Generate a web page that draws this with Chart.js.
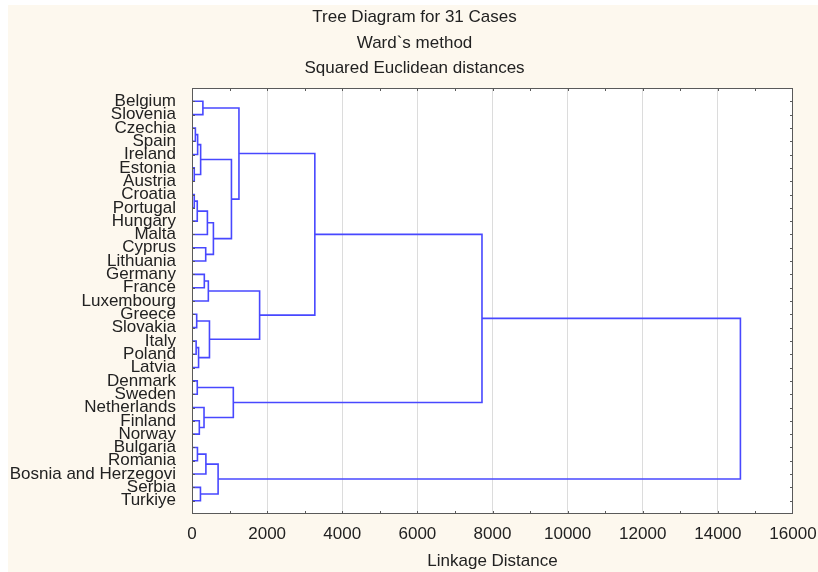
<!DOCTYPE html>
<html>
<head>
<meta charset="utf-8">
<script src="https://cdn.jsdelivr.net/npm/chart.js@4.4.1/dist/chart.umd.min.js"></script>
<style>
  html, body { margin: 0; padding: 0; background: #ffffff; }
  #wrap { width: 818px; height: 572px; }
</style>
</head>
<body>
<div id="wrap"><canvas id="treeChart"></canvas></div>
<script>
// Cases, top to bottom, as listed on the y axis
const cases = ["Belgium", "Slovenia", "Czechia", "Spain", "Ireland", "Estonia", "Austria",
    "Croatia", "Portugal", "Hungary", "Malta", "Cyprus", "Lithuania", "Germany", "France",
    "Luxembourg", "Greece", "Slovakia", "Italy", "Poland", "Latvia", "Denmark", "Sweden",
    "Netherlands", "Finland", "Norway", "Bulgaria", "Romania", "Bosnia and Herzegovi",
    "Serbia", "Turkiye"];

// Merge steps: node ids < 31 are cases, id 31 + k is the cluster made at step k
const mergeA = [0, 2, 32, 5, 33, 7, 36, 37, 11, 38, 35, 31, 13, 43, 16, 18, 46, 45, 44, 42,
    21, 24, 23, 51, 50, 26, 56, 29, 57, 55];
const mergeB = [1, 3, 4, 6, 34, 8, 9, 10, 12, 39, 40, 41, 14, 15, 17, 19, 20, 47, 48, 49,
    22, 25, 52, 53, 54, 27, 28, 30, 58, 59];
const mergeDist = [290, 90, 150, 60, 230, 60, 140, 410, 365, 570, 1050, 1250, 328, 435, 125,
    110, 175, 465, 1800, 3270, 140, 195, 320, 1100, 7720, 145, 370, 225, 695, 14600];

const distanceTicks = [0, 2000, 4000, 6000, 8000, 10000, 12000, 14000, 16000];

const titleLines = ["Tree Diagram for 31 Cases", "Ward`s method", "Squared Euclidean distances"];

// build the bracket for every merge
const nodeY = cases.map((c, i) => i);
const nodeH = cases.map(() => 0);
const datasets = [];
for (let k = 0; k < mergeDist.length; k++) {
    const a = mergeA[k], b = mergeB[k], h = mergeDist[k];
    datasets.push({
        data: [
            { x: nodeH[a], y: nodeY[a] },
            { x: h, y: nodeY[a] },
            { x: h, y: nodeY[b] },
            { x: nodeH[b], y: nodeY[b] }
        ],
        showLine: true,
        borderColor: '#4848ff',
        borderWidth: 1.6,
        pointRadius: 0,
        fill: false
    });
    nodeY.push((nodeY[a] + nodeY[b]) / 2);
    nodeH.push(h);
}

const FONT = "'Liberation Sans', Arial, sans-serif";

const framePlugin = {
    id: 'frame',
    afterLayout(chart) {
        // the title sits a little right of the canvas centre
        if (chart.titleBlock) {
            chart.titleBlock.left += 18;
            chart.titleBlock.right += 18;
        }
    },
    beforeDraw(chart) {
        const { ctx, chartArea: a } = chart;
        ctx.save();
        ctx.fillStyle = '#fdf8ee';
        ctx.fillRect(8, 5, chart.width - 8, chart.height - 5);
        ctx.fillStyle = '#ffffff';
        ctx.fillRect(a.left, a.top, a.right - a.left, a.bottom - a.top);
        ctx.restore();
    },
    afterDraw(chart) {
        const { ctx, chartArea: a, scales } = chart;
        ctx.save();
        ctx.strokeStyle = '#5a5a5a';
        ctx.lineWidth = 1;
        ctx.strokeRect(a.left + 0.5, a.top + 0.5, a.right - a.left - 1, a.bottom - a.top - 1);
        ctx.beginPath();
        for (let v = 1000; v < 16000; v += 1000) {
            const px = Math.round(scales.x.getPixelForValue(v)) + 0.5;
            ctx.moveTo(px, a.bottom);
            ctx.lineTo(px, a.bottom - 3);
            ctx.moveTo(px, a.top);
            ctx.lineTo(px, a.top + 3);
        }
        cases.forEach((c, i) => {
            const py = Math.round(scales.y.getPixelForValue(i)) + 0.5;
            ctx.moveTo(a.left, py);
            ctx.lineTo(a.left + 3, py);
            ctx.moveTo(a.right, py);
            ctx.lineTo(a.right - 3, py);
        });
        ctx.stroke();
        ctx.restore();
    }
};

const ctx = document.getElementById('treeChart').getContext('2d');
const treeChart = new Chart(ctx, {
    type: 'scatter',
    data: { datasets: datasets },
    plugins: [framePlugin],
    options: {
        responsive: true,
        maintainAspectRatio: false,
        animation: false,
        layout: { padding: { left: 0, right: 25, top: 0, bottom: 0 } },
        plugins: {
            legend: { display: false },
            tooltip: { enabled: false },
            title: {
                display: true,
                text: titleLines,
                color: '#222',
                font: { family: FONT, size: 17, weight: 'normal', lineHeight: 1.5 },
                padding: { top: 5, bottom: 6.5 }
            }
        },
        scales: {
            x: {
                type: 'linear',
                min: 0,
                max: 16000,
                afterFit(scale) {
                    scale.height = 58;
                    scale.paddingLeft = 0;
                    scale.paddingRight = 0;
                },
                afterBuildTicks(scale) { scale.ticks = distanceTicks.map(v => ({ value: v })); },
                grid: {
                    drawTicks: false,
                    color: (c) => (c.tick && c.tick.value > 0 && c.tick.value < 16000) ? '#dcdcdc' : 'rgba(0,0,0,0)'
                },
                border: { display: false },
                ticks: {
                    color: '#222',
                    padding: 10,
                    maxRotation: 0,
                    autoSkip: false,
                    font: { family: FONT, size: 17 },
                    callback: (v) => String(v)
                },
                title: {
                    display: true,
                    text: 'Linkage Distance',
                    color: '#222',
                    font: { family: FONT, size: 17 },
                    padding: { top: 4, bottom: 0 }
                }
            },
            y: {
                type: 'linear',
                reverse: true,
                min: -1,
                max: 31,
                afterFit(scale) {
                    scale.width = 192;
                    scale.paddingTop = 0;
                    scale.paddingBottom = 0;
                },
                afterBuildTicks(scale) { scale.ticks = cases.map((c, i) => ({ value: i })); },
                grid: { display: false },
                border: { display: false },
                ticks: {
                    color: '#222',
                    padding: 8,
                    autoSkip: false,
                    font: { family: FONT, size: 17 },
                    callback: (v) => cases[v]
                }
            }
        }
    }
});
</script>
</body>
</html>
